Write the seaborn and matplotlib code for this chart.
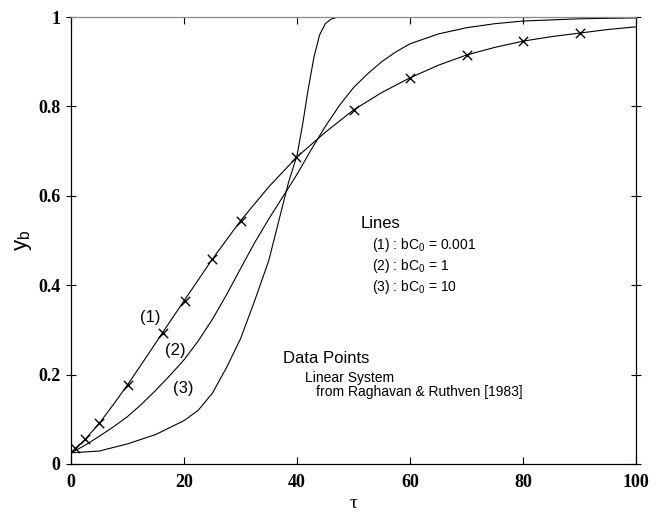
import matplotlib
matplotlib.use("Agg")
import matplotlib.pyplot as plt
import seaborn as sns
import pandas as pd

# ---- data ----
tau1 = [0, 1, 2.5, 5, 7.5, 10, 13, 16, 20, 25, 30, 35, 40, 45, 50, 55, 60, 65, 70, 75,
        80, 85, 90, 95, 100]
y1 = [0.025, 0.036, 0.055, 0.091, 0.133, 0.177, 0.233, 0.290, 0.365, 0.458, 0.544, 0.620,
      0.687, 0.742, 0.792, 0.831, 0.864, 0.892, 0.915, 0.932, 0.946, 0.956, 0.964, 0.972,
      0.978]

tau2 = [0, 2.5, 5, 7.5, 10, 12.5, 15, 17.5, 20, 22.5, 25, 27.5, 30, 32.5, 35, 37.5, 40,
        42.5, 45, 47.5, 50, 52.5, 55, 57.5, 60, 65, 70, 75, 80, 90, 100]
y2 = [0.025, 0.042, 0.062, 0.083, 0.106, 0.134, 0.165, 0.198, 0.233, 0.275, 0.323, 0.378,
      0.437, 0.495, 0.548, 0.598, 0.648, 0.703, 0.755, 0.802, 0.842, 0.873, 0.900, 0.922,
      0.940, 0.962, 0.976, 0.985, 0.991, 0.996, 0.998]

tau3 = [0, 5, 10, 15, 20, 22.5, 25, 27.5, 30, 32.5, 35, 37.5, 38.5, 40, 41, 42, 43, 44,
        45, 46, 47, 48, 50, 100]
y3 = [0.025, 0.029, 0.045, 0.066, 0.097, 0.120, 0.158, 0.215, 0.280, 0.365, 0.455, 0.580,
      0.630, 0.690, 0.760, 0.840, 0.910, 0.960, 0.985, 0.995, 0.999, 1.0, 1.0, 1.0]

tau_pts = [0.7, 2.5, 5, 10, 16.2, 20.2, 25, 30.1, 39.9, 50, 60, 70, 80, 90]
y_pts = [0.036, 0.055, 0.091, 0.177, 0.292, 0.365, 0.458, 0.544, 0.687, 0.792, 0.864, 0.915,
         0.946, 0.964]

xticks = [0, 20, 40, 60, 80, 100]
yticks = [0, 0.2, 0.4, 0.6, 0.8, 1.0]
ytick_labels = ["0", "0.2", "0.4", "0.6", "0.8", "1"]

sns.set_theme(style="white")
plt.rcParams["font.family"] = ["Liberation Sans", "DejaVu Sans"]
plt.rcParams["text.color"] = "black"
plt.rcParams["axes.labelcolor"] = "black"

fig = plt.figure(figsize=(6.61, 5.13), dpi=100)
ax = fig.add_axes([71 / 661, 49 / 513, 565 / 661, 447 / 513])

df1 = pd.DataFrame({"tau": tau1, "y": y1})
df2 = pd.DataFrame({"tau": tau2, "y": y2})
df3 = pd.DataFrame({"tau": tau3, "y": y3})
dfp = pd.DataFrame({"tau": tau_pts, "y": y_pts})

for d in (df1, df2, df3):
    sns.lineplot(data=d, x="tau", y="y", ax=ax, color="black", linewidth=0.8,
                 sort=False, estimator=None)
sns.scatterplot(data=dfp, x="tau", y="y", ax=ax, marker="x", color="black", s=45,
                linewidth=1.0, zorder=5)

ax.set_xlim(0, 100)
ax.set_ylim(0, 1)
ax.set_xticks(xticks)
ax.set_yticks(yticks)
ax.set_xticklabels([str(v) for v in xticks])
ax.set_yticklabels(ytick_labels)
for lab in ax.get_xticklabels() + ax.get_yticklabels():
    lab.set_fontfamily("Liberation Serif")
    lab.set_fontweight("bold")
    lab.set_fontsize(13)
    lab.set_color("black")

ax.tick_params(axis="x", which="both", direction="in", length=5, width=0.8,
               top=True, bottom=True, pad=7, colors="black")
ax.tick_params(axis="y", which="both", direction="inout", length=7, width=0.8,
               left=True, right=True, pad=4, colors="black")

for side, sp in ax.spines.items():
    sp.set_visible(True)
    sp.set_linewidth(0.9)
    sp.set_color("black")
ax.spines["top"].set_color("#8a8a8a")

ax.set_xlabel("τ", fontfamily="Liberation Serif", fontsize=14, labelpad=3, color="black")
ax.set_ylabel(r"$\mathregular{y_b}$", fontsize=16, labelpad=3, color="black")

# curve labels
ax.text(14.0, 0.327, "(1)", fontsize=12, ha="center", va="center")
ax.text(18.4, 0.255, "(2)", fontsize=12, ha="center", va="center")
ax.text(19.9, 0.170, "(3)", fontsize=12, ha="center", va="center")

# legend-like annotations
ax.text(51.2, 0.537, "Lines", fontsize=12, ha="left", va="center")
ax.text(53.3, 0.490, r"(1) : bC$_\mathregular{0}$ = 0.001", fontsize=10, ha="left", va="center")
ax.text(53.3, 0.443, r"(2) : bC$_\mathregular{0}$ = 1", fontsize=10, ha="left", va="center")
ax.text(53.3, 0.396, r"(3) : bC$_\mathregular{0}$ = 10", fontsize=10, ha="left", va="center")

ax.text(37.5, 0.235, "Data Points", fontsize=12, ha="left", va="center")
ax.text(41.4, 0.192, "Linear System", fontsize=10, ha="left", va="center")
ax.text(43.3, 0.160, "from Raghavan & Ruthven [1983]", fontsize=10, ha="left", va="center")

fig.savefig("out.png", dpi=100)
